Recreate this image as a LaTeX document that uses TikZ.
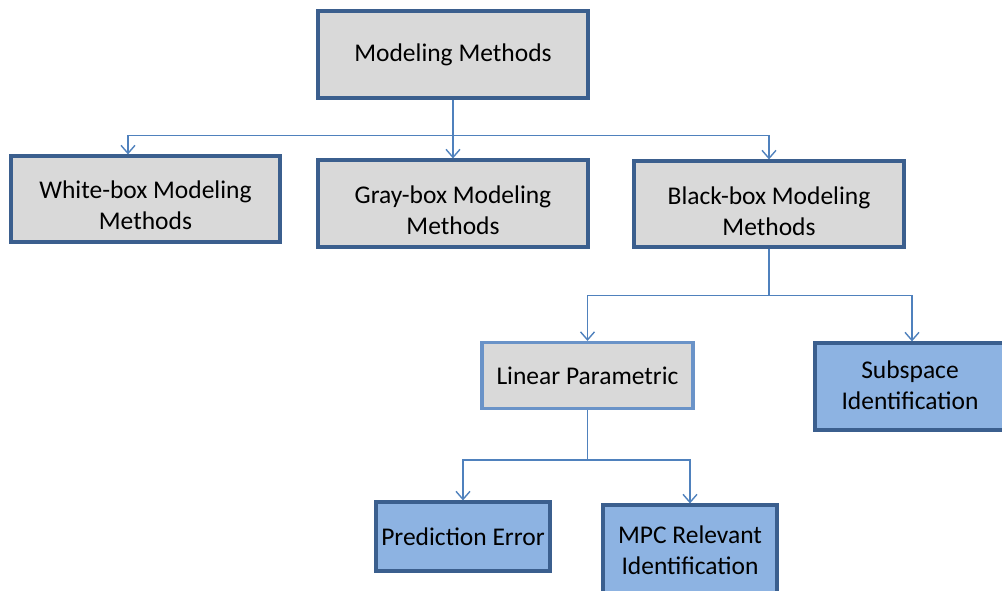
\documentclass[tikz,border=0pt]{standalone}
\usepackage{fontspec}
\setmainfont{Carlito}
\usetikzlibrary{arrows.meta}
\definecolor{boxgray}{HTML}{D9D9D9}
\definecolor{boxblue}{HTML}{8DB3E2}
\definecolor{edgedark}{HTML}{3B5F8E}
\definecolor{edgelight}{HTML}{6A93C8}
\definecolor{linkblue}{HTML}{4F81BD}
\tikzset{
  txt/.style={align=center, inner sep=0pt, text=black,
    font=\fontsize{25.5}{31}\selectfont},
  base/.style={draw, line width=3.2pt, txt},
  graybox/.style={base, fill=boxgray, draw=edgedark},
  lightbox/.style={base, fill=boxgray, draw=edgelight},
  bluebox/.style={base, fill=boxblue, draw=edgedark},
  caption/.style={label={[txt, yshift=#1]center:\boxtext}},
  link/.style={draw=linkblue, line width=1.4pt},
  conn/.style={link, -{Straight Barb[length=8pt,width=14pt]}},
}
\begin{document}
\begin{tikzpicture}[x=1pt, y=-1pt]
\useasboundingbox (0,0) rectangle (1002,590);

% boxes
\node[graybox, minimum width=270pt, minimum height=87pt] (mm) at (453,54.5) {Modeling Methods};
\node[graybox, minimum width=269pt, minimum height=86pt,
  label={[txt, yshift=-6.5pt]center:White-box Modeling\\Methods}] (wb) at (145.5,199) {};
\node[graybox, minimum width=270pt, minimum height=87pt,
  label={[txt, yshift=-6.5pt]center:Gray-box Modeling\\Methods}] (gb) at (453,203.5) {};
\node[graybox, minimum width=270pt, minimum height=86pt,
  label={[txt, yshift=-7.5pt]center:Black-box Modeling\\Methods}] (bb) at (769,204) {};
\node[lightbox, minimum width=211pt, minimum height=66pt] (lp) at (587.5,375.5) {Linear Parametric};
\node[bluebox, minimum width=190pt, minimum height=87pt,
  label={[txt, yshift=1pt]center:Subspace\\Identification}] (ss) at (910,386.5) {};
\node[bluebox, minimum width=174pt, minimum height=69pt] (pe) at (463,536.5) {Prediction Error};
\node[bluebox, minimum width=174pt, minimum height=100pt,
  label={[txt, yshift=5pt]center:MPC Relevant\\Identification}] (mpc) at (690,555) {};

% first level
\draw[conn] (mm.south) -- (gb.north);
\draw[conn] (mm.south) ++(0,36) -| ([xshift=-17.5pt]wb.north);
\draw[conn] (mm.south) ++(0,36) -| (bb.north);

% second level
\draw[link] (bb.south) -- ++(0,47) coordinate (j2);
\draw[conn] (j2) -| (lp.north);
\draw[conn] (j2) -| ([xshift=2pt]ss.north);

% third level
\draw[link] (lp.south) -- ++(0,50) coordinate (j3);
\draw[conn] (j3) -| (pe.north);
\draw[conn] (j3) -| (mpc.north);
\end{tikzpicture}
\end{document}
